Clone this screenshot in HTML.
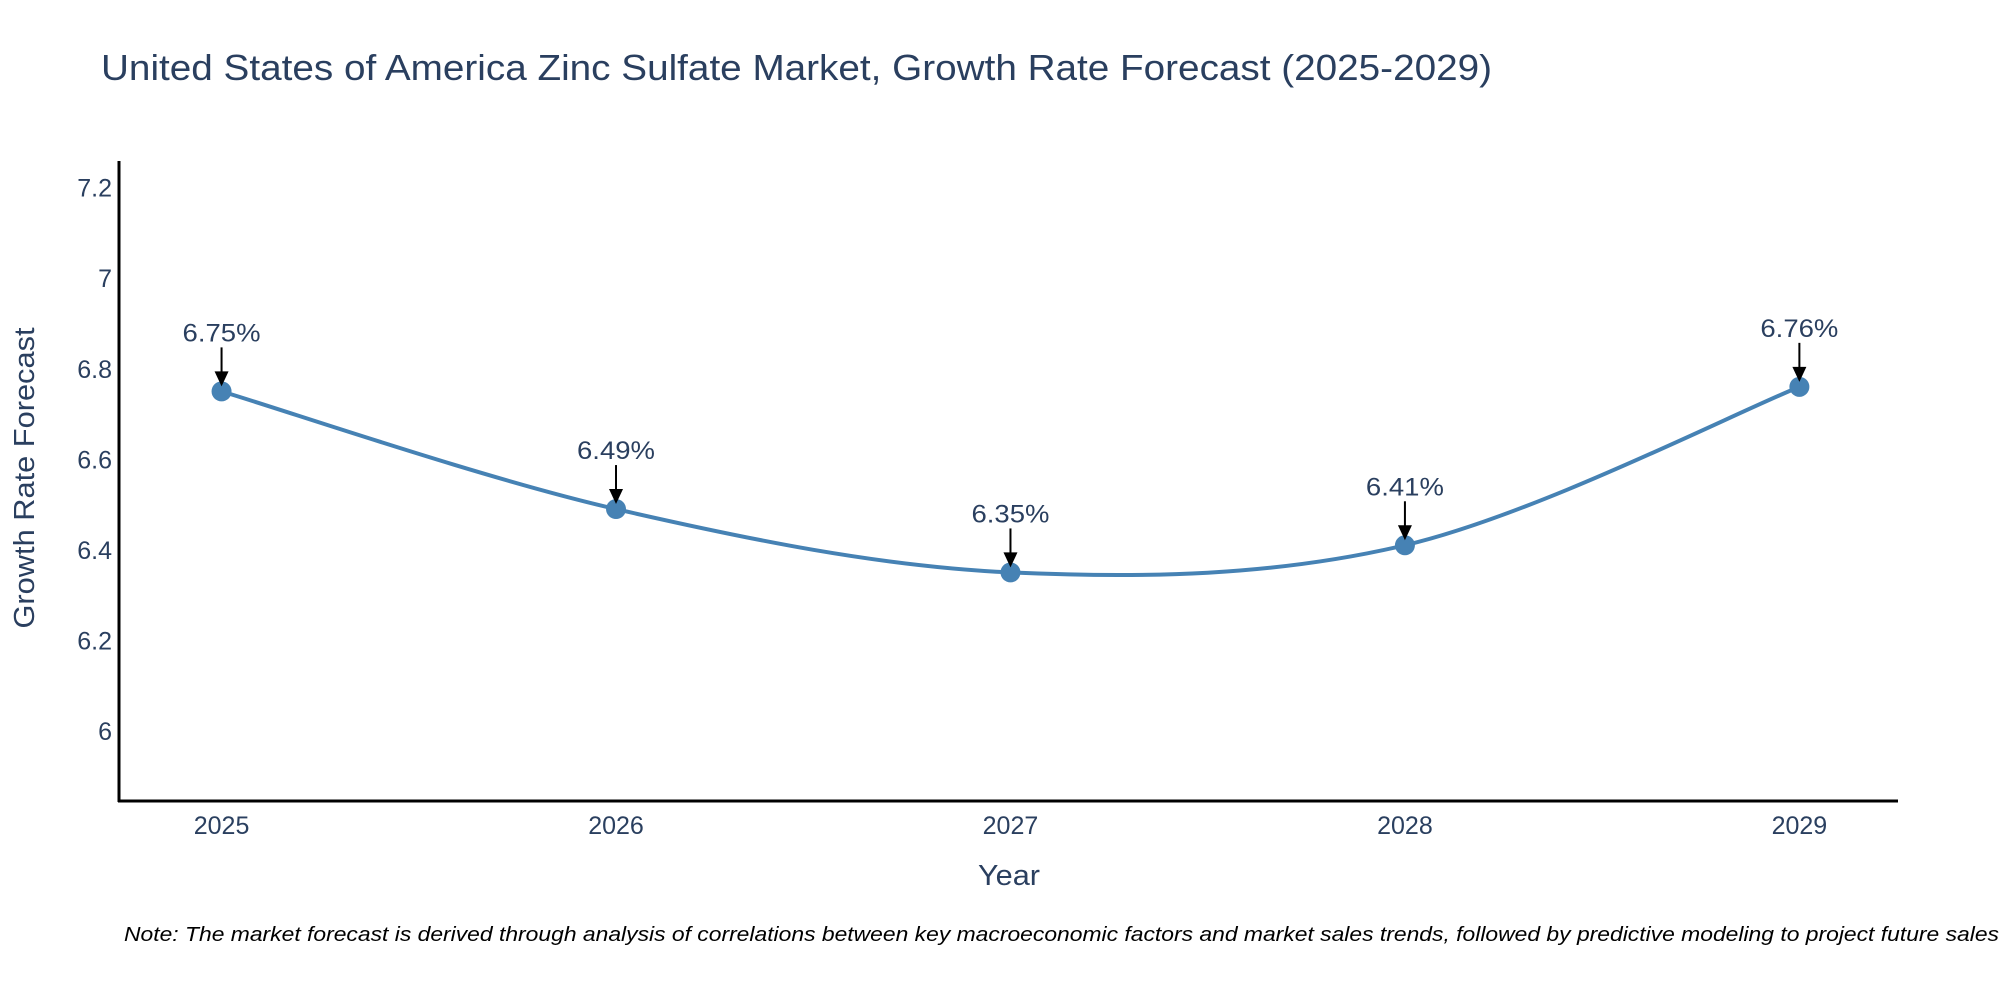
<!DOCTYPE html>
<html><head><meta charset="utf-8"><style>
body{margin:0;background:#fff;}
svg text{font-family:"Liberation Sans",sans-serif;fill:#2a3f5f;}
</style></head><body>
<svg id="chart" width="2000" height="1000" xmlns="http://www.w3.org/2000/svg">
<text x="101" y="80" font-size="36" textLength="1391" lengthAdjust="spacingAndGlyphs">United States of America Zinc Sulfate Market, Growth Rate Forecast (2025-2029)</text>
<g id="yticks"></g>
<g id="xticks"></g>
<line x1="119" y1="161" x2="119" y2="802" stroke="#000" stroke-width="3"/>
<line x1="118" y1="801" x2="1898" y2="801" stroke="#000" stroke-width="3"/>
<g id="series"></g>
<g id="annots"></g>
<text x="1009" y="885" font-size="29" text-anchor="middle" textLength="62" lengthAdjust="spacingAndGlyphs">Year</text>
<text transform="translate(34,478) rotate(-90)" font-size="29" text-anchor="middle" textLength="301" lengthAdjust="spacingAndGlyphs">Growth Rate Forecast</text>
<text x="124" y="941" font-size="20" font-style="italic" textLength="1875" lengthAdjust="spacingAndGlyphs" style="fill:#000">Note: The market forecast is derived through analysis of correlations between key macroeconomic factors and market sales trends, followed by predictive modeling to project future sales</text>
</svg>
<script>
const years = [2025, 2026, 2027, 2028, 2029];
const rates = [6.75, 6.49, 6.35, 6.41, 6.76];
const rateLabels = ["6.75%", "6.49%", "6.35%", "6.41%", "6.76%"];
const yTickValues = [6, 6.2, 6.4, 6.6, 6.8, 7, 7.2];
const yTickLabels = ["6", "6.2", "6.4", "6.6", "6.8", "7", "7.2"];

const NS = "http://www.w3.org/2000/svg";
const X0 = 119, X1 = 1898, Y0 = 801, Y1 = 161;
const xMin = 2024.74, xMax = 2029.25, yMin = 5.845, yMax = 7.259;
const xs = v => X0 + (v - xMin) / (xMax - xMin) * (X1 - X0);
const ys = v => Y0 - (v - yMin) / (yMax - yMin) * (Y0 - Y1);
function mk(tag, attrs, parent){const e=document.createElementNS(NS,tag);for(const k in attrs)e.setAttribute(k,attrs[k]);parent.appendChild(e);return e;}

const yg = document.getElementById('yticks');
yTickValues.forEach((v,i)=>{
  const t = mk('text',{x:112,y:ys(v)+9,'font-size':25,'text-anchor':'end'},yg);
  
  
  t.textContent = yTickLabels[i];
});
const xg = document.getElementById('xticks');
years.forEach(v=>{
  const t = mk('text',{x:xs(v),y:834,'font-size':25,'text-anchor':'middle'},xg);
  
  
  t.textContent = v;
});

const pts = years.map((y,i)=>[xs(y), ys(rates[i])]);
let d = `M${pts[0][0]},${pts[0][1]}`;
const tension = 0.5;
for(let i=0;i<pts.length-1;i++){
  const p0=pts[Math.max(i-1,0)], p1=pts[i], p2=pts[i+1], p3=pts[Math.min(i+2,pts.length-1)];
  const c1=[p1[0]+(p2[0]-p0[0])*tension/3, p1[1]+(p2[1]-p0[1])*tension/3];
  const c2=[p2[0]-(p3[0]-p1[0])*tension/3, p2[1]-(p3[1]-p1[1])*tension/3];
  d += ` C${c1[0]},${c1[1]} ${c2[0]},${c2[1]} ${p2[0]},${p2[1]}`;
}
const sg = document.getElementById('series');
const line = mk('path',{d:d,fill:'none',stroke:'#4682b4','stroke-width':4},sg);


pts.forEach(p=>{
  const c = mk('circle',{cx:p[0],cy:p[1],r:10,fill:'#4682b4'},sg);
  
  
});

const ag = document.getElementById('annots');
pts.forEach((p,i)=>{
  const l = mk('line',{x1:p[0],y1:p[1]-44,x2:p[0],y2:p[1]-14,stroke:'#000','stroke-width':2},ag);
  
  
  const h = mk('polygon',{points:`${p[0]-7},${p[1]-20} ${p[0]+7},${p[1]-20} ${p[0]},${p[1]-5}`,fill:'#000'},ag);
  
  
  const t = mk('text',{x:p[0],y:p[1]-50,'font-size':25,'text-anchor':'middle','textLength':78,'lengthAdjust':'spacingAndGlyphs'},ag);
  
  
  t.textContent = rateLabels[i];
});
</script>
</body></html>
